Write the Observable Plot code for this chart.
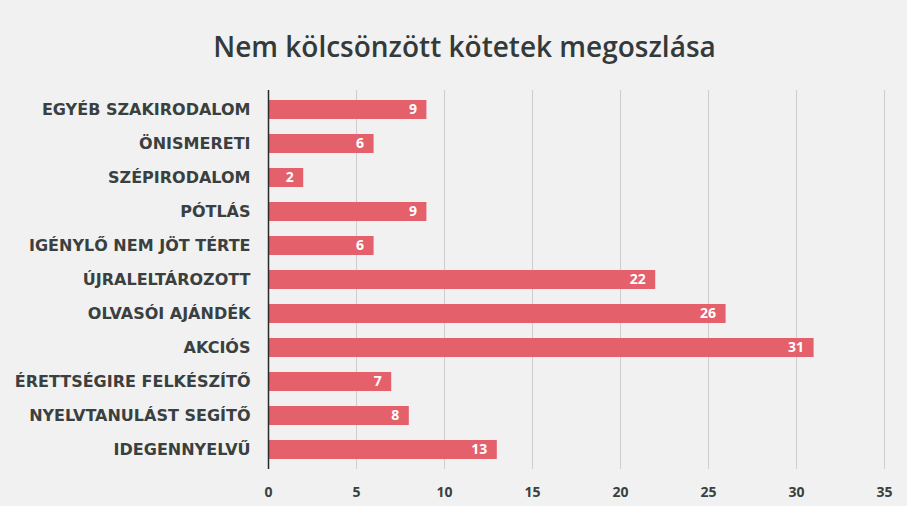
<!DOCTYPE html>
<html>
<head>
<meta charset="utf-8">
<script src="https://cdn.jsdelivr.net/npm/d3@7"></script>
<script src="https://cdn.jsdelivr.net/npm/@observablehq/plot@0.6"></script>
<style>
  body { margin: 0; background: #f1f1f1; width: 907px; height: 506px; overflow: hidden; }
  #title { height: 70px; box-sizing: border-box; padding-top: 28px; padding-left: 22px; text-align: center;
           font-family: "Open Sans", sans-serif; font-size: 28px; font-weight: 600; color: #343a3a; line-height: 36px; }
  #chart svg { display: block; background: transparent; }
</style>
</head>
<body>
<div id="title">Nem kölcsönzött kötetek megoszlása</div>
<div id="chart"></div>
<script>
const categories = [
  "EGYÉB SZAKIRODALOM",
  "ÖNISMERETI",
  "SZÉPIRODALOM",
  "PÓTLÁS",
  "IGÉNYLŐ NEM JÖT TÉRTE",
  "ÚJRALELTÁROZOTT",
  "OLVASÓI AJÁNDÉK",
  "AKCIÓS",
  "ÉRETTSÉGIRE FELKÉSZÍTŐ",
  "NYELVTANULÁST SEGÍTŐ",
  "IDEGENNYELVŰ"
];
const values = [9, 6, 2, 9, 6, 22, 26, 31, 7, 8, 13];
const xTicks = [0, 5, 10, 15, 20, 25, 30, 35];

const data = categories.map((c, i) => ({category: c, value: values[i]}));

const plot = Plot.plot({
  width: 907,
  height: 436,
  marginTop: 20,
  marginBottom: 37,
  marginLeft: 268,
  marginRight: 23,
  style: {background: "transparent", fontFamily: "'Open Sans', sans-serif"},
  x: {domain: [0, 35], ticks: xTicks, label: null, grid: false},
  y: {domain: categories, label: null, paddingInner: 0.45, paddingOuter: 0.2},
  marks: [
    Plot.ruleX(xTicks.slice(1), {stroke: "#cdcdcd", strokeWidth: 1}),
    Plot.barX(data, {x: "value", y: "category", fill: "#e4606b"}),
    Plot.text(data, {x: "value", y: "category", text: d => String(d.value), textAnchor: "end", dx: -10,
                     fill: "white", fontWeight: "bold", fontSize: 14}),
    Plot.ruleX([0], {stroke: "#2a2a2a", strokeWidth: 1.5}),
    Plot.axisX({ticks: xTicks, tickSize: 0, tickPadding: 18, fontSize: 14, fontWeight: "bold", color: "#3a4040"}),
    Plot.axisY({tickSize: 0, tickPadding: 18, fontSize: 16, fontWeight: "bold", color: "#3a4040",
                fontFamily: "'DejaVu Sans', sans-serif"})
  ]
});
document.getElementById("chart").appendChild(plot);
</script>
</body>
</html>
